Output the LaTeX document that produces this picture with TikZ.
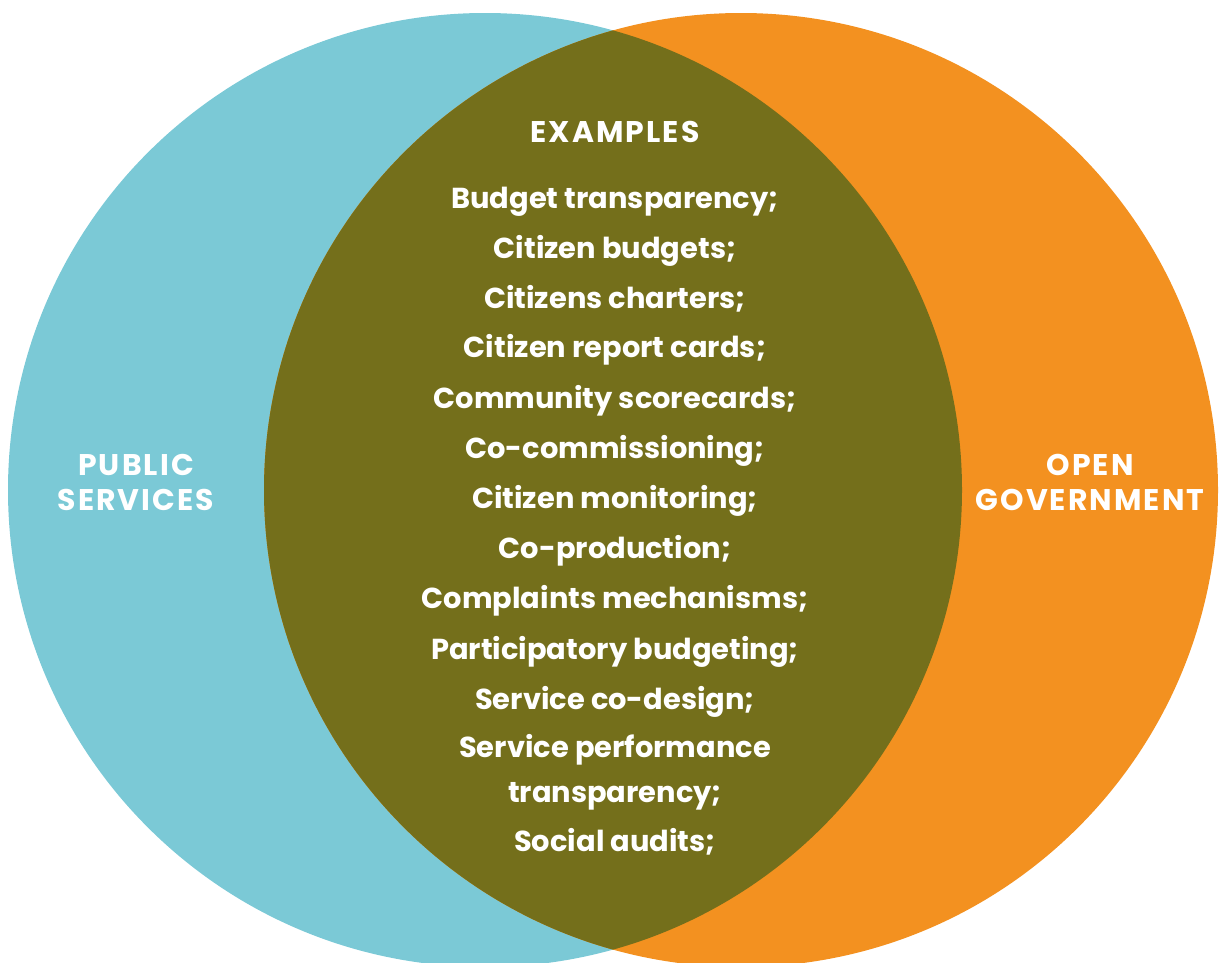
\documentclass[tikz,border=0pt]{standalone}
\usepackage{fontspec}
\setmainfont{Poppins}
\newfontfamily\capsfont[LetterSpace=7]{Poppins}
\usepackage{tikz}

\definecolor{psblue}{HTML}{7BC9D6}
\definecolor{ogorange}{HTML}{F39120}
\definecolor{mixolive}{HTML}{746F1B}

\begin{document}
\begin{tikzpicture}[x=1bp, y=-1bp, every node/.style={text=white, anchor=base, inner sep=0pt, outer sep=0pt, font=\bfseries\fontsize{29}{34}\selectfont}, setname/.style={font=\capsfont\bfseries\fontsize{30}{34}\selectfont}]
\useasboundingbox (0,0) rectangle (1219,963);

% the two sets and their overlap
\fill[psblue] (485,490) circle (477);
\fill[ogorange] (741,490) circle (477);
\begin{scope}
\clip (485,490) circle (477);
\fill[mixolive] (741,490) circle (477);
\end{scope}

\node[setname] (pub1) at (136,475) {PUBLIC};
\node[setname] (pub2) at (136,510) {SERVICES};
\node[setname] (open1) at (1090,475) {OPEN};
\node[setname] (open2) at (1090,510) {GOVERNMENT};

\node[setname] (head) at (615,142) {EXAMPLES};
\node (ex1) at (615,208) {Budget transparency;};
\node (ex2) at (615,258) {Citizen budgets;};
\node (ex3) at (615,308) {Citizens charters;};
\node (ex4) at (615,357) {Citizen report cards;};
\node (ex5) at (615,408) {Community scorecards;};
\node (ex6) at (615,458) {Co-commissioning;};
\node (ex7) at (615,508) {Citizen monitoring;};
\node (ex8) at (615,558) {Co-production;};
\node (ex9) at (615,608) {Complaints mechanisms;};
\node (ex10) at (615,659) {Participatory budgeting;};
\node (ex11) at (615,709) {Service co-design;};
\node (ex12a) at (615,757) {Service performance};
\node (ex12b) at (615,802) {transparency;};
\node (ex13) at (615,851) {Social audits;};
\end{tikzpicture}
\end{document}
